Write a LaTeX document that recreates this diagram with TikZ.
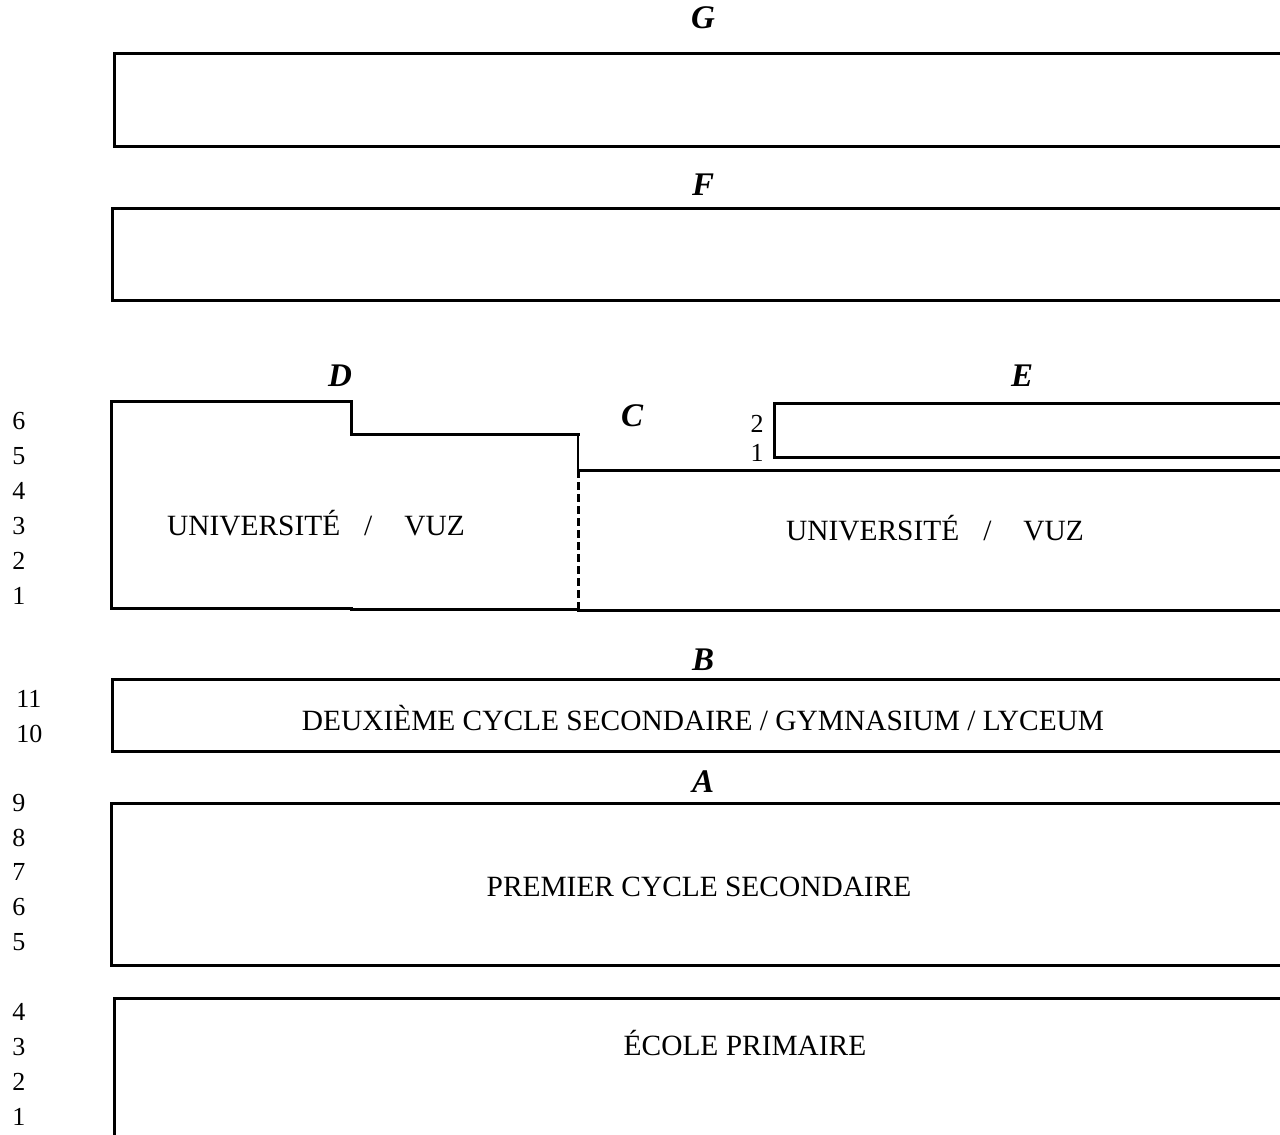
\documentclass[tikz,border=0pt]{standalone}
\usepackage{fontspec}
\setmainfont{Liberation Serif}
\begin{document}
\begin{tikzpicture}[x=0.5pt,y=-0.5pt,
  boxline/.style={line width=1.5pt,line cap=rect},
  thinline/.style={line width=1pt},
  dashline/.style={line width=1.5pt,dash pattern=on 4pt off 2pt},
  lvl/.style={font=\fontsize{16.5}{18}\selectfont\bfseries\itshape,inner sep=0pt},
  body/.style={font=\fontsize{14.7}{16}\selectfont,inner sep=0pt},
  yr/.style={font=\fontsize{13}{14}\selectfont,inner sep=0pt,anchor=west}]
\useasboundingbox (0,0) rectangle (1280,1135);
% G
\node[lvl] (G) at (703,18) {G};
\draw[boxline] (1285,53) -- (114,53) -- (114,146) -- (1285,146);
% F
\node[lvl] (F) at (703,185) {F};
\draw[boxline] (1285,208) -- (112,208) -- (112,300) -- (1285,300);
% D box
\node[lvl] (D) at (340,376) {D};
\draw[boxline] (578,434) -- (351,434) -- (351,401) -- (111,401) -- (111,608) -- (351,608);
\draw[boxline] (351,609) -- (578,609);
\node[body] (uniD) at (316,523) {UNIVERSITÉ\hspace{12pt}/\hspace{16pt}VUZ};
% C
\node[lvl] (C) at (632,416) {C};
\draw[thinline] (578,434) -- (578,470);
\draw[boxline] (578,470) -- (1285,470);
\draw[dashline] (578,470) -- (578,610);
\draw[boxline] (578,610) -- (1285,610);
\node[body] (uniC) at (935,528) {UNIVERSITÉ\hspace{12pt}/\hspace{16pt}VUZ};
% E
\node[lvl] (E) at (1022,376) {E};
\draw[boxline] (1285,403) -- (774,403) -- (774,457) -- (1285,457);
\node[yr,anchor=center] (e2) at (757,424) {2};
\node[yr,anchor=center] (e1) at (757,453) {1};
% B
\node[lvl] (B) at (703,660) {B};
\draw[boxline] (1285,679) -- (112,679) -- (112,751) -- (1285,751);
\node[body] (btext) at (703,718) {DEUXIÈME CYCLE SECONDAIRE / GYMNASIUM / LYCEUM};
% A
\node[lvl] (A) at (703,782) {A};
\draw[boxline] (1285,803) -- (111,803) -- (111,965) -- (1285,965);
\node[body] (atext) at (699,887) {PREMIER CYCLE SECONDAIRE};
% primary
\draw[boxline] (1285,998) -- (114,998) -- (114,1140);
\node[body] (ptext) at (745,1043) {ÉCOLE PRIMAIRE};
% years
\node[yr] (u6) at (12,421) {6};
\node[yr] (u5) at (12,456) {5};
\node[yr] (u4) at (12,491) {4};
\node[yr] (u3) at (12,526) {3};
\node[yr] (u2) at (12,561) {2};
\node[yr] (u1) at (12,596) {1};
\node[yr] (s11) at (16,699) {11};
\node[yr] (s10) at (16,734) {10};
\node[yr] (s9) at (12,803) {9};
\node[yr] (s8) at (12,838) {8};
\node[yr] (s7) at (12,872) {7};
\node[yr] (s6) at (12,907) {6};
\node[yr] (s5) at (12,942) {5};
\node[yr] (p4) at (12,1012) {4};
\node[yr] (p3) at (12,1047) {3};
\node[yr] (p2) at (12,1082) {2};
\node[yr] (p1) at (12,1117) {1};
\end{tikzpicture}
\end{document}
